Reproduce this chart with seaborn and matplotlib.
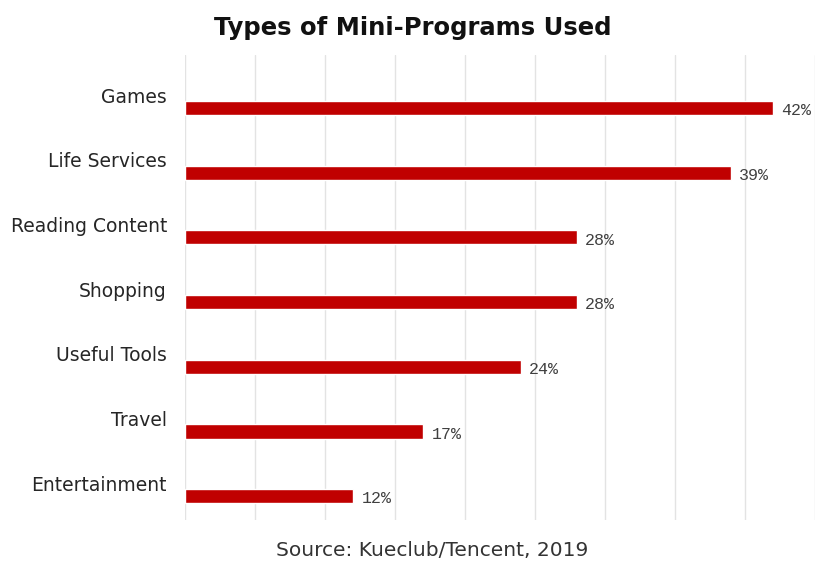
import matplotlib
matplotlib.use("Agg")
import matplotlib.pyplot as plt
import matplotlib.transforms as mtransforms
from matplotlib import font_manager
import seaborn as sns
import pandas as pd

categories = ["Games", "Life Services", "Reading Content", "Shopping",
              "Useful Tools", "Travel", "Entertainment"]
values = [42, 39, 28, 28, 24, 17, 12]
value_labels = ["42%", "39%", "28%", "28%", "24%", "17%", "12%"]

sns.set_theme(style="white")
plt.rcParams['font.family'] = ['DejaVu Sans']

names = {f.name for f in font_manager.fontManager.ttflist}
mono = "Liberation Mono" if "Liberation Mono" in names else (
    "Liberation Serif" if "Liberation Serif" in names else "DejaVu Sans Mono")

df = pd.DataFrame({"category": categories, "value": values})

fig = plt.figure(figsize=(8.17, 5.61), dpi=100)
ax = fig.add_axes([185/817, 1-520/561, (815-185)/817, (520-55)/561])

sns.barplot(data=df, x="value", y="category", orient="h", color="#c00000",
            saturation=1, width=0.22, ax=ax, zorder=3)

ax.set_xlim(0, 45)
ax.set_ylim(6.37, -0.82)
ax.set_xticks(range(0, 46, 5))
ax.set_xticklabels([])
ax.grid(axis="x", color="#e3e3e3", linewidth=1, zorder=0)
ax.grid(axis="y", visible=False)
for s in ax.spines.values():
    s.set_visible(False)
ax.set_xlabel("")
ax.set_ylabel("")
ax.tick_params(axis="both", length=0)
ax.tick_params(axis="y", pad=13, labelsize=13.5, labelcolor="#262626")

offset = mtransforms.ScaledTranslation(0, 13/100, fig.dpi_scale_trans)
for lbl in ax.get_yticklabels():
    lbl.set_transform(lbl.get_transform() + offset)

for i, (v, t) in enumerate(zip(values, value_labels)):
    ax.annotate(t, xy=(v, i), xytext=(6, -2), textcoords="offset points",
                ha="left", va="center", fontsize=12, color="#404040",
                fontfamily=mono)

fig.text(413/817, 1-28/561, "Types of Mini-Programs Used", ha="center", va="center",
         fontsize=17.5, fontweight="bold", color="#111111")
fig.text(432/817, 1-550/561, "Source: Kueclub/Tencent, 2019", ha="center", va="center",
         fontsize=14.5, color="#333333")

fig.savefig("out.png", dpi=100)
